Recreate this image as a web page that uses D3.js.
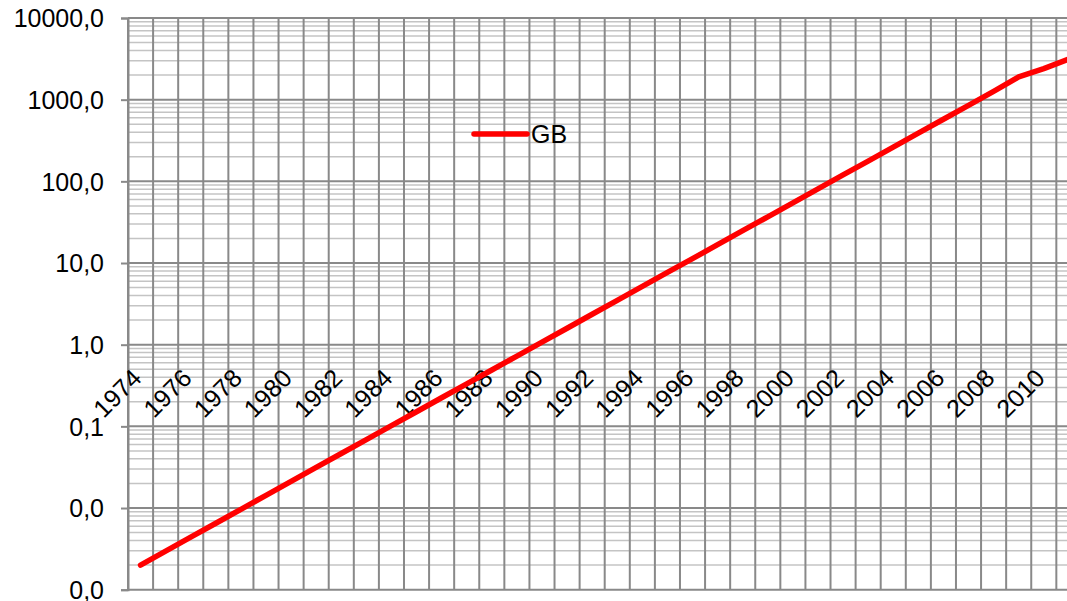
<!DOCTYPE html>
<html>
<head>
<meta charset="utf-8">
<script src="https://cdn.jsdelivr.net/npm/d3@7"></script>
<style>
  html, body { margin: 0; padding: 0; background: #fff; }
  svg { display: block; font-family: "Liberation Sans", Arial, sans-serif; }
</style>
</head>
<body>
<svg id="chart" width="1067" height="601"></svg>
<script>
const years = ["1974","1975","1976","1977","1978","1979","1980","1981","1982","1983",
  "1984","1985","1986","1987","1988","1989","1990","1991","1992","1993",
  "1994","1995","1996","1997","1998","1999","2000","2001","2002","2003",
  "2004","2005","2006","2007","2008","2009","2010","2011"];
const gb = [0.00200,0.00297,0.00440,0.00651,0.00965,0.0143,0.0212,0.0314,0.0465,0.0688,
  0.102,0.151,0.224,0.331,0.490,0.726,1.075,1.59,2.36,3.49,
  5.17,7.66,11.3,16.8,24.9,36.8,54.6,80.8,120,177,
  263,389,576,853,1263,1900,2400,3150];
const yTickValues = [0.001,0.01,0.1,1,10,100,1000,10000];
const yTickLabels = ["0,0","0,0","0,1","1,0","10,0","100,0","1000,0","10000,0"];
const seriesName = "GB";

(function () {
const svg = d3.select("#chart");
const pLeft = 128, pTop = 18, pBottom = 589.7, bandW = 25.09;
const pRight = pLeft + bandW * years.length;

const x = d3.scaleBand().domain(years).range([pLeft, pRight]).paddingInner(0).paddingOuter(0);
const y = d3.scaleLog().domain([0.001, 10000]).range([pBottom, pTop]);

// minor gridlines
const minor = [];
for (let d = 0; d < yTickValues.length - 1; d++) {
  for (let k = 2; k <= 9; k++) minor.push(yTickValues[d] * k);
}
svg.append("g").selectAll("line").data(minor).join("line")
  .attr("x1", pLeft).attr("x2", pRight)
  .attr("y1", d => y(d)).attr("y2", d => y(d))
  .attr("stroke", "#c4c4c4").attr("stroke-width", 1.5);

// vertical gridlines
const vx = years.map(d => x(d)).concat([pRight]);
svg.append("g").selectAll("line").data(vx).join("line")
  .attr("x1", d => d).attr("x2", d => d)
  .attr("y1", pTop).attr("y2", pBottom)
  .attr("stroke", "#898989").attr("stroke-width", 2);

// major gridlines
svg.append("g").selectAll("line").data(yTickValues).join("line")
  .attr("x1", pLeft).attr("x2", pRight)
  .attr("y1", d => y(d)).attr("y2", d => y(d))
  .attr("stroke", "#898989").attr("stroke-width", 2);

// y axis
const yAxis = d3.axisLeft(y).tickValues(yTickValues)
  .tickFormat((d, i) => yTickLabels[i]).tickSize(7).tickPadding(17);
const ya = svg.append("g").attr("transform", `translate(${pLeft},0)`).call(yAxis);
ya.select(".domain").attr("stroke", "#898989").attr("stroke-width", 2);
ya.selectAll(".tick line").attr("stroke", "#898989").attr("stroke-width", 2);
ya.selectAll(".tick text").attr("font-size", 25).attr("fill", "#000")
  .attr("font-family", "Liberation Sans, Arial, sans-serif").attr("dy", "0.35em");

// x labels (every other year), below the axis crossing at 1
const xLabels = years.filter((d, i) => i % 2 === 0);
svg.append("g").selectAll("text").data(xLabels).join("text")
  .attr("transform", d => `translate(${x(d) + x.bandwidth() / 2 + 2.6},${y(1) + 35}) rotate(-45)`)
  .attr("text-anchor", "end")
  .attr("font-size", 25)
  .attr("fill", "#000")
  .text(d => d);

// series line
const line = d3.line().x((d, i) => x(years[i]) + x.bandwidth() / 2).y(d => y(d));
svg.append("path").datum(gb)
  .attr("d", line)
  .attr("fill", "none").attr("stroke", "#ff0000").attr("stroke-width", 5.5)
  .attr("stroke-linecap", "round").attr("stroke-linejoin", "round");

// legend
const lg = svg.append("g");
lg.append("line").attr("x1", 474).attr("x2", 527).attr("y1", 134).attr("y2", 134)
  .attr("stroke", "#ff0000").attr("stroke-width", 5.5).attr("stroke-linecap", "round");
lg.append("text").attr("x", 531).attr("y", 143).attr("font-size", 25).attr("fill", "#000").text(seriesName);
})();
</script>
</body>
</html>
